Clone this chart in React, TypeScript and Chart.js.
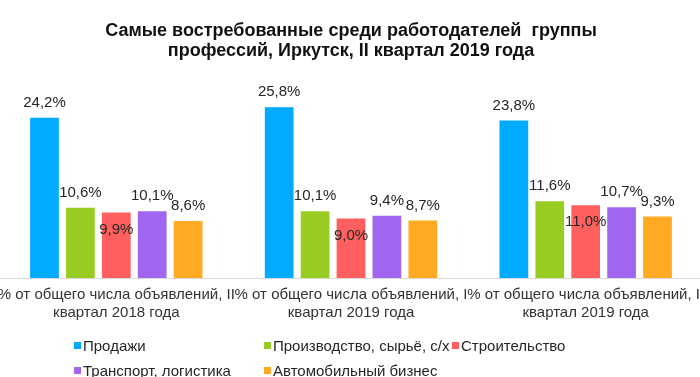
import React, { useEffect, useRef } from "react";
import { Chart, registerables } from "chart.js";

Chart.register(...registerables);

const FONT = "'Liberation Sans', Arial, sans-serif";

const titleLines = [
  "Самые востребованные среди работодателей  группы",
  "профессий, Иркутск, II квартал 2019 года",
];

const categories = [
  ["% от общего числа объявлений, II", "квартал 2018 года"],
  ["% от общего числа объявлений, I", "квартал 2019 года"],
  ["% от общего числа объявлений, II", "квартал 2019 года"],
];

const seriesNames = [
  "Продажи",
  "Производство, сырьё, с/х",
  "Строительство",
  "Транспорт, логистика",
  "Автомобильный бизнес",
];

const sales = [24.2, 25.8, 23.8];
const production = [10.6, 10.1, 11.6];
const construction = [9.9, 9.0, 11.0];
const transport = [10.1, 9.4, 10.7];
const automotive = [8.6, 8.7, 9.3];

const seriesValues = [sales, production, construction, transport, automotive];

const seriesColors = ["#00aaff", "#99cc22", "#ff5f5f", "#a066f0", "#ffaa22"];
const labelInside = [false, false, true, false, false];

const fmt = (v: number) => v.toFixed(1).replace(".", ",") + "%";

const valueLabelPlugin = {
  id: "valueLabels",
  afterDatasetsDraw(chart: any) {
    const ctx = chart.ctx;
    ctx.save();
    ctx.font = `15px ${FONT}`;
    ctx.fillStyle = "#262626";
    ctx.textAlign = "center";
    ctx.textBaseline = "middle";
    chart.data.datasets.forEach((ds: any, i: number) => {
      const meta = chart.getDatasetMeta(i);
      meta.data.forEach((bar: any, j: number) => {
        const v = ds.data[j] as number;
        const y = ds.labelInside ? bar.y + 17 : bar.y - 15;
        ctx.fillText(fmt(v), bar.x, y);
      });
    });
    ctx.restore();
  },
};

export default function App() {
  const canvasRef = useRef<HTMLCanvasElement | null>(null);

  useEffect(() => {
    if (!canvasRef.current) return;
    const chart = new Chart(canvasRef.current, {
      type: "bar",
      data: {
        labels: categories,
        datasets: seriesNames.map((name, i) => ({
          label: name,
          data: seriesValues[i],
          backgroundColor: seriesColors[i],
          borderWidth: 0,
          categoryPercentage: 0.765,
          barPercentage: 0.8,
          labelInside: labelInside[i],
        })) as any,
      },
      options: {
        animation: false,
        responsive: true,
        maintainAspectRatio: false,
        layout: { autoPadding: false, padding: { left: 0, right: 0, top: 0, bottom: 55 } },
        plugins: {
          legend: { display: false },
          tooltip: { enabled: false },
          title: {
            display: true,
            text: titleLines,
            color: "#111",
            font: { family: FONT, size: 18, weight: "bold", lineHeight: 1.094 },
            padding: { top: 21, bottom: 19 },
          },
        },
        scales: {
          x: {
            grid: { display: false, drawTicks: true, tickLength: 8 },
            border: { display: true, color: "#d9d9d9", width: 1 },
            ticks: {
              color: "#333",
              font: { family: FONT, size: 15, lineHeight: 1.2 },
              padding: 0,
              maxRotation: 0,
              minRotation: 0,
              autoSkip: false,
            },
          },
          y: {
            display: false,
            min: 0,
            max: 30,
          },
        },
      },
      plugins: [valueLabelPlugin],
    });
    return () => chart.destroy();
  }, []);

  const legendCols = [74, 264, 452];
  const legendRows = [336, 361];
  const legendPos = [
    [0, 0],
    [1, 0],
    [2, 0],
    [0, 1],
    [1, 1],
  ];

  return (
    <div
      style={{
        position: "fixed",
        left: 0,
        top: 0,
        width: 700,
        height: 377,
        overflow: "hidden",
        background: "#fff",
      }}
    >
      <div style={{ position: "absolute", left: -2, top: 0, width: 706, height: 377 }}>
        <canvas ref={canvasRef} />
      </div>
      {seriesNames.map((name, i) => (
        <div
          key={name}
          style={{
            position: "absolute",
            left: legendCols[legendPos[i][0]],
            top: legendRows[legendPos[i][1]],
            height: 18,
            display: "flex",
            alignItems: "center",
            font: `15px ${FONT}`,
            color: "#262626",
            whiteSpace: "nowrap",
          }}
        >
          <span
            style={{
              display: "inline-block",
              width: 7,
              height: 7,
              background: seriesColors[i],
              marginRight: 2,
            }}
          />
          {name}
        </div>
      ))}
    </div>
  );
}
